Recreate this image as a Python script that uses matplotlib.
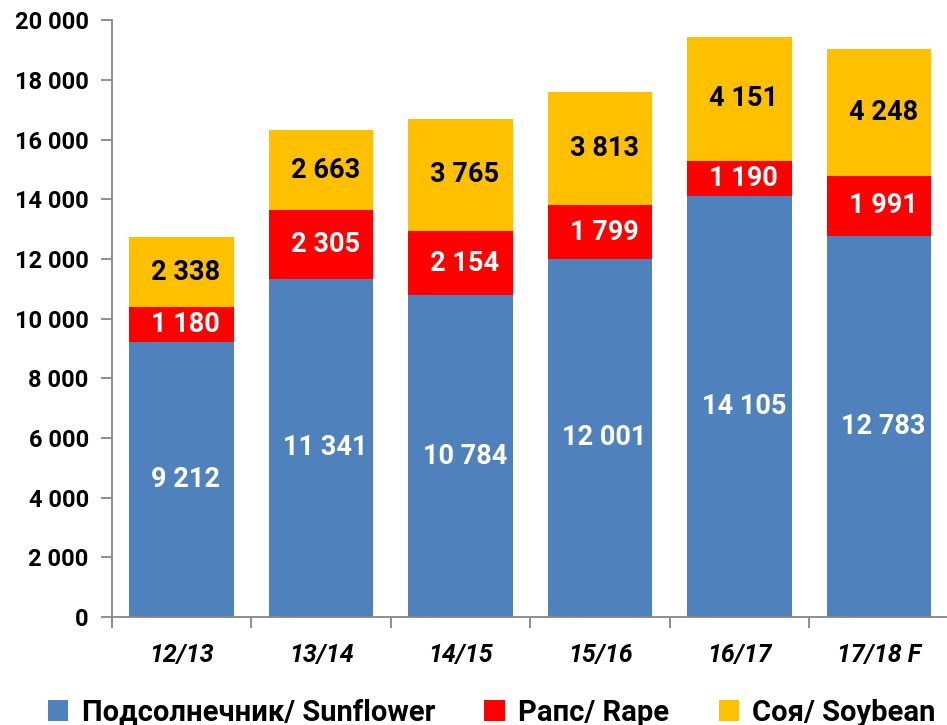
import matplotlib
matplotlib.use('Agg')
import matplotlib.pyplot as plt
import numpy as np
from matplotlib.ticker import FuncFormatter, FixedLocator

plt.rcParams['font.family'] = ['Roboto', 'DejaVu Sans']
plt.rcParams['font.weight'] = 'bold'

seasons = ['12/13', '13/14', '14/15', '15/16', '16/17', '17/18 F']
sunflower = [9212, 11341, 10784, 12001, 14105, 12783]
rape = [1180, 2305, 2154, 1799, 1190, 1991]
soybean = [2338, 2663, 3765, 3813, 4151, 4248]

names = ['Подсолнечник/ Sunflower', 'Рапс/ Rape', 'Соя/ Soybean']
colors = ['#4F81BD', '#FF0000', '#FFC000']
text_colors = ['white', 'white', 'black']


def fmt(v):
    return '{:,}'.format(int(v)).replace(',', ' ')


fig = plt.figure(figsize=(9.47, 7.25), dpi=100)
ax = fig.add_axes([0.118, 0.149, 0.884, 0.823])

x = np.arange(len(seasons))
bottom = np.zeros(len(seasons))
for vals, name, col, tc in zip([sunflower, rape, soybean], names, colors, text_colors):
    vals = np.array(vals)
    ax.bar(x, vals, width=0.75, bottom=bottom, color=col, label=name)
    for xi, b, v in zip(x, bottom, vals):
        ax.text(xi + 0.03, b + v / 2, fmt(v), ha='center', va='center',
                color=tc, fontsize=19.5, fontweight='bold')
    bottom = bottom + vals

ax.set_xlim(-0.5, len(seasons) - 0.5)
ax.set_ylim(0, 20000)
ax.set_yticks(np.arange(0, 20001, 2000))
ax.yaxis.set_major_formatter(FuncFormatter(lambda v, p: fmt(v)))

# category ticks between bars, labels centered under bars
ax.set_xticks(x)
ax.set_xticklabels(seasons, fontsize=18, fontweight='bold', fontstyle='italic')
ax.xaxis.set_minor_locator(FixedLocator(np.arange(-0.5, len(seasons), 1.0)))
ax.tick_params(axis='x', which='major', length=0, pad=19)
ax.tick_params(axis='x', which='minor', length=8, color='#868686', width=1.3)
ax.tick_params(axis='y', length=8, color='#868686', width=1.3, labelsize=17, pad=8.5)
for lab in ax.get_yticklabels():
    lab.set_fontweight('bold')

for s in ['top', 'right']:
    ax.spines[s].set_visible(False)
for s in ['left', 'bottom']:
    ax.spines[s].set_color('#868686')
    ax.spines[s].set_linewidth(1.3)

ax.legend(loc='upper center', bbox_to_anchor=(0.454, -0.093), ncol=3, frameon=False,
          prop={'size': 21, 'weight': 'bold'}, handlelength=0.7, handleheight=0.7,
          handletextpad=0.45, columnspacing=1.7)

fig.savefig('out.png', dpi=100)
